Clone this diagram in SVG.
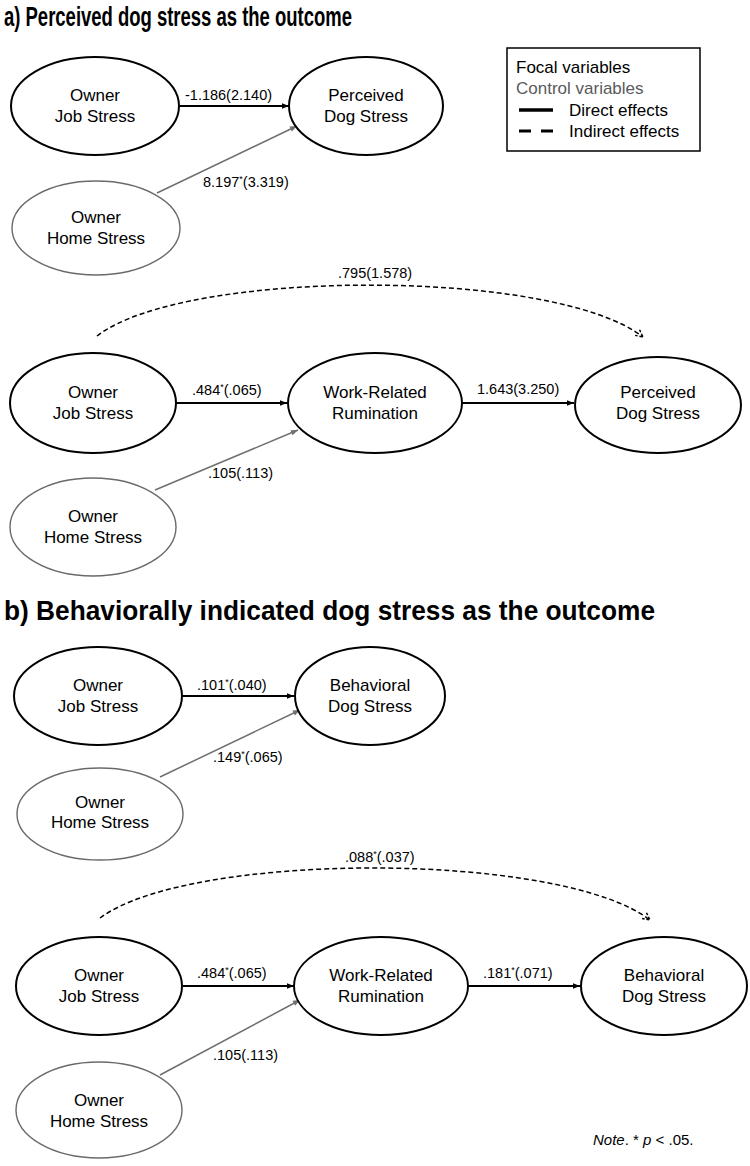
<svg xmlns="http://www.w3.org/2000/svg" width="750" height="1166" viewBox="0 0 750 1166">
<style>
.title{font-family:"Liberation Sans",Arial,sans-serif;font-weight:bold;font-size:27px;fill:#000}
.nt{font-family:"Liberation Sans",Arial,sans-serif;font-size:17px;fill:#000;text-anchor:middle}
.lb{font-family:"Liberation Sans",Arial,sans-serif;font-size:14.5px;fill:#000}
.lg{font-family:"Liberation Sans",Arial,sans-serif;font-size:17px;fill:#000}
.focal{fill:#fff;stroke:#000;stroke-width:2}
.ctrl{fill:#fff;stroke:#6a6a6a;stroke-width:1.4}
.d{stroke:#000;stroke-width:2;fill:none;marker-end:url(#ah)}
.g{stroke:#6f6f6f;stroke-width:1.5;fill:none;marker-end:url(#ahg)}
.ind{stroke:#000;stroke-width:1.5;fill:none;stroke-dasharray:5 3;marker-end:url(#aho)}
.sup{font-size:9px}
</style>
<defs>
<marker id="ah" viewBox="0 0 10 10" refX="10" refY="5" markerWidth="8" markerHeight="7" markerUnits="userSpaceOnUse" orient="auto"><path d="M0,1 L10,5 L0,9 z" fill="#000"/></marker>
<marker id="ahg" viewBox="0 0 10 10" refX="10" refY="5" markerWidth="8" markerHeight="7" markerUnits="userSpaceOnUse" orient="auto"><path d="M0,1 L10,5 L0,9 z" fill="#6f6f6f"/></marker>
<marker id="aho" viewBox="0 0 10 10" refX="9" refY="5" markerWidth="9" markerHeight="9" markerUnits="userSpaceOnUse" orient="auto"><path d="M1,1 L9,5 L1,9" fill="none" stroke="#000" stroke-width="1.6" stroke-dasharray="3 2"/></marker>
</defs>
<rect width="750" height="1166" fill="#fff"/>

<text class="title" x="4" y="26" textLength="348" lengthAdjust="spacingAndGlyphs">a) Perceived dog stress as the outcome</text>
<text class="title" x="4" y="620" textLength="651" lengthAdjust="spacingAndGlyphs">b) Behaviorally indicated dog stress as the outcome</text>

<g id="legend">
<rect x="507" y="48" width="193" height="103" fill="#fff" stroke="#000" stroke-width="1.5"/>
<text class="lg" x="516" y="73">Focal variables</text>
<text class="lg" x="516" y="94" style="fill:#5a5a5a">Control variables</text>
<line x1="519" y1="110" x2="553" y2="110" stroke="#000" stroke-width="3.5"/>
<text class="lg" x="569" y="116">Direct effects</text>
<line x1="519" y1="131" x2="553" y2="131" stroke="#000" stroke-width="3" stroke-dasharray="12 10"/>
<text class="lg" x="569" y="137">Indirect effects</text>
</g>

<g id="connectors">
<line class="d" x1="179" y1="106" x2="289" y2="106"/>
<line class="g" x1="157" y1="193" x2="297" y2="126"/>
<path class="ind" d="M97,336 C185,268 555,268 643,337"/>
<line class="d" x1="176" y1="403" x2="287" y2="403"/>
<line class="d" x1="462" y1="403" x2="574" y2="403"/>
<line class="g" x1="155" y1="490" x2="298" y2="430"/>
<line class="d" x1="182" y1="696" x2="294" y2="696"/>
<line class="g" x1="160" y1="777" x2="300" y2="710"/>
<path class="ind" d="M100,918 C190,851 560,851 650,920"/>
<line class="d" x1="183" y1="986" x2="294" y2="986"/>
<line class="d" x1="468" y1="986" x2="580" y2="986"/>
<line class="g" x1="160" y1="1075" x2="300" y2="1000"/>
</g>

<g id="edge-labels">
<text class="lb" x="185" y="100">-1.186(2.140)</text>
<text class="lb" x="203" y="187">8.197<tspan class="sup" dy="-5">*</tspan><tspan dy="5">(3.319)</tspan></text>
<text class="lb" x="338" y="278">.795(1.578)</text>
<text class="lb" x="192" y="395">.484<tspan class="sup" dy="-5">*</tspan><tspan dy="5">(.065)</tspan></text>
<text class="lb" x="477" y="394">1.643(3.250)</text>
<text class="lb" x="208" y="478">.105(.113)</text>
<text class="lb" x="197" y="690">.101<tspan class="sup" dy="-5">*</tspan><tspan dy="5">(.040)</tspan></text>
<text class="lb" x="213" y="762">.149<tspan class="sup" dy="-5">*</tspan><tspan dy="5">(.065)</tspan></text>
<text class="lb" x="345" y="862">.088<tspan class="sup" dy="-5">*</tspan><tspan dy="5">(.037)</tspan></text>
<text class="lb" x="197" y="978">.484<tspan class="sup" dy="-5">*</tspan><tspan dy="5">(.065)</tspan></text>
<text class="lb" x="483" y="978">.181<tspan class="sup" dy="-5">*</tspan><tspan dy="5">(.071)</tspan></text>
<text class="lb" x="213" y="1060">.105(.113)</text>
</g>

<g id="a-job1"><ellipse class="focal" cx="95" cy="106" rx="84" ry="49"/><text class="nt" x="95" y="101">Owner</text><text class="nt" x="95" y="122">Job Stress</text></g>
<g id="a-dog1"><ellipse class="focal" cx="366" cy="106" rx="77" ry="49"/><text class="nt" x="366" y="101">Perceived</text><text class="nt" x="366" y="122">Dog Stress</text></g>
<g id="a-home1"><ellipse class="ctrl" cx="96" cy="228" rx="84" ry="47"/><text class="nt" x="96" y="223">Owner</text><text class="nt" x="96" y="244">Home Stress</text></g>

<g id="a-job2"><ellipse class="focal" cx="93" cy="403" rx="83" ry="50"/><text class="nt" x="93" y="398">Owner</text><text class="nt" x="93" y="419">Job Stress</text></g>
<g id="a-rum"><ellipse class="focal" cx="375" cy="403" rx="87" ry="50"/><text class="nt" x="375" y="398">Work-Related</text><text class="nt" x="375" y="419">Rumination</text></g>
<g id="a-dog2"><ellipse class="focal" cx="658" cy="405" rx="83" ry="48"/><text class="nt" x="658" y="398">Perceived</text><text class="nt" x="658" y="419">Dog Stress</text></g>
<g id="a-home2"><ellipse class="ctrl" cx="93" cy="527" rx="83" ry="49"/><text class="nt" x="93" y="522">Owner</text><text class="nt" x="93" y="543">Home Stress</text></g>

<g id="b-job1"><ellipse class="focal" cx="98" cy="696" rx="84" ry="49"/><text class="nt" x="98" y="691">Owner</text><text class="nt" x="98" y="712">Job Stress</text></g>
<g id="b-dog1"><ellipse class="focal" cx="370" cy="696" rx="75" ry="49"/><text class="nt" x="370" y="691">Behavioral</text><text class="nt" x="370" y="712">Dog Stress</text></g>
<g id="b-home1"><ellipse class="ctrl" cx="100" cy="814" rx="83" ry="46"/><text class="nt" x="100" y="808">Owner</text><text class="nt" x="100" y="828">Home Stress</text></g>

<g id="b-job2"><ellipse class="focal" cx="99" cy="986" rx="83" ry="49"/><text class="nt" x="99" y="981">Owner</text><text class="nt" x="99" y="1002">Job Stress</text></g>
<g id="b-rum"><ellipse class="focal" cx="381" cy="986" rx="87" ry="49"/><text class="nt" x="381" y="981">Work-Related</text><text class="nt" x="381" y="1002">Rumination</text></g>
<g id="b-dog2"><ellipse class="focal" cx="664" cy="986" rx="83" ry="49"/><text class="nt" x="664" y="981">Behavioral</text><text class="nt" x="664" y="1002">Dog Stress</text></g>
<g id="b-home2"><ellipse class="ctrl" cx="99" cy="1110" rx="83" ry="48"/><text class="nt" x="99" y="1106">Owner</text><text class="nt" x="99" y="1127">Home Stress</text></g>

<text x="593" y="1145" font-family="Liberation Sans, Arial, sans-serif" font-size="15"><tspan font-style="italic">Note</tspan>. * <tspan font-style="italic">p</tspan> &lt; .05.</text>
</svg>
